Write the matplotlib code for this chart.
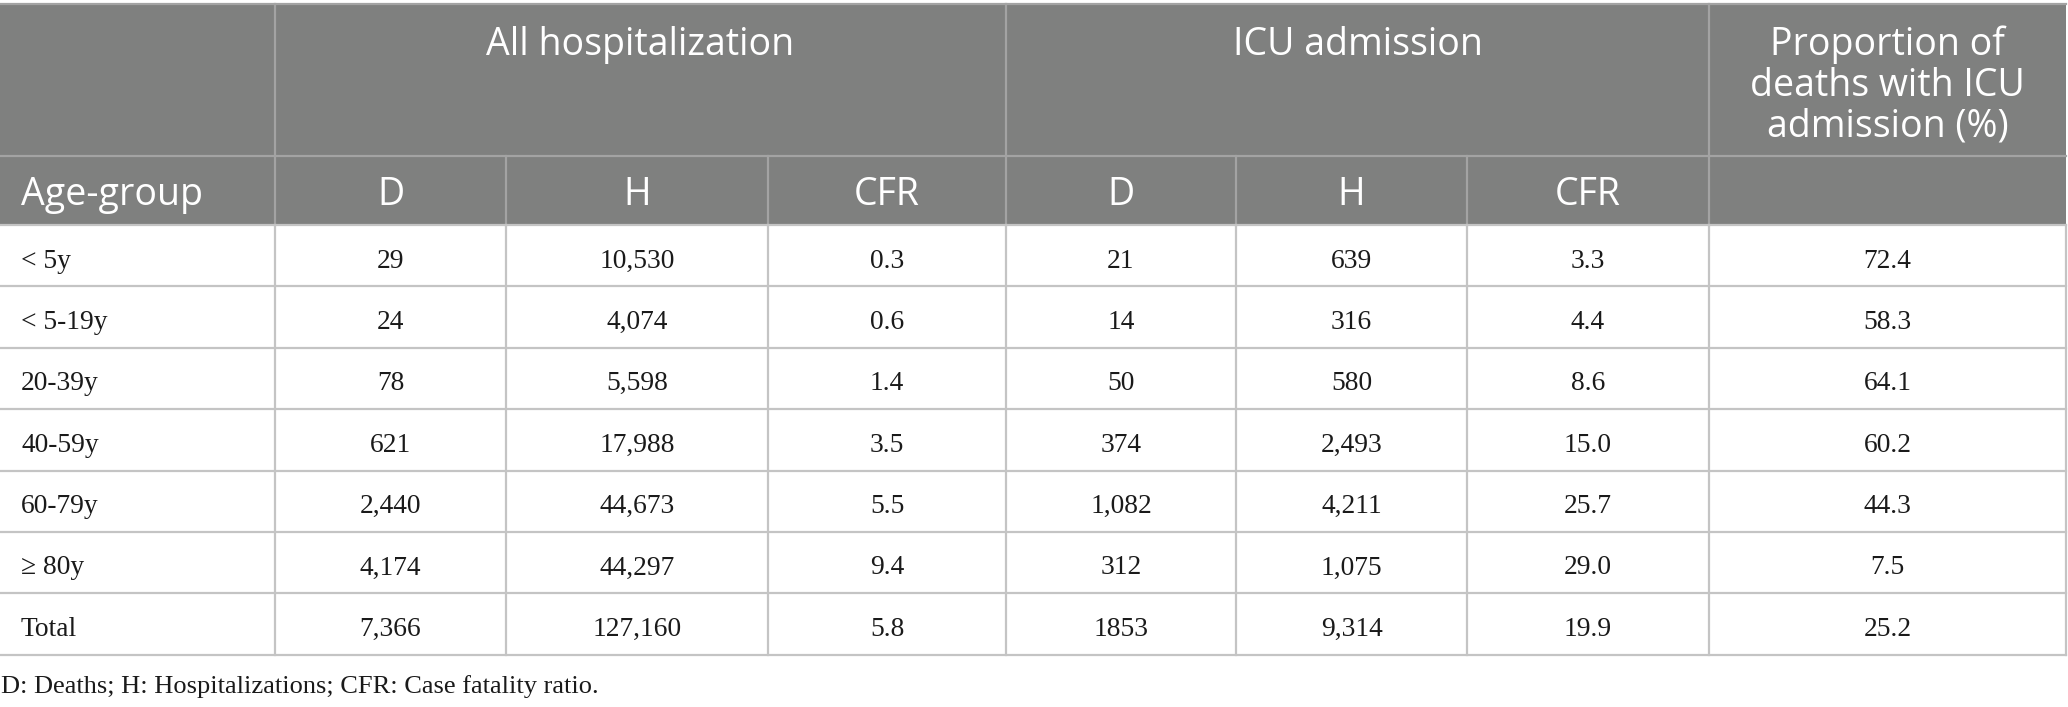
import matplotlib
matplotlib.use("Agg")
import matplotlib.pyplot as plt
from matplotlib.patches import Rectangle

# ---- data ----
age_groups = ["< 5y", "< 5-19y", "20-39y", "40-59y", "60-79y", "\u2265 80y", "Total"]
all_D = ["29", "24", "78", "621", "2,440", "4,174", "7,366"]
all_H = ["10,530", "4,074", "5,598", "17,988", "44,673", "44,297", "127,160"]
all_CFR = ["0.3", "0.6", "1.4", "3.5", "5.5", "9.4", "5.8"]
icu_D = ["21", "14", "50", "374", "1,082", "312", "1853"]
icu_H = ["639", "316", "580", "2,493", "4,211", "1,075", "9,314"]
icu_CFR = ["3.3", "4.4", "8.6", "15.0", "25.7", "29.0", "19.9"]
prop_icu = ["72.4", "58.3", "64.1", "60.2", "44.3", "7.5", "25.2"]

group_headers = ["All hospitalization", "ICU admission"]
prop_header = ["Proportion of", "deaths with ICU", "admission (%)"]
sub_headers = ["Age-group", "D", "H", "CFR", "D", "H", "CFR", ""]
footnote = "D: Deaths; H: Hospitalizations; CFR: Case fatality ratio."

# ---- layout (pixels) ----
W, H = 2068, 707
col_x = [0, 275, 506, 768, 1006, 1236, 1467, 1709, 2066]
y_top, y_h1, y_h2 = 4, 156, 225
row_h = 61.4
n_rows = len(age_groups)
y_bottom = y_h2 + n_rows * row_h

head_bg = "#7f807f"
head_line = "#a3a3a3"
body_line = "#c4c4c4"
sans = ["Open Sans", "DejaVu Sans"]
serif = ["Liberation Serif", "DejaVu Serif"]

fig = plt.figure(figsize=(W / 100, H / 100), dpi=100)
ax = fig.add_axes([0, 0, 1, 1])
ax.set_xlim(0, W)
ax.set_ylim(H, 0)
ax.axis("off")

# header background
ax.add_patch(Rectangle((0, y_top), col_x[-1], y_h2 - y_top, facecolor=head_bg,
                       edgecolor="none", zorder=1))

# header lines
lw = 1.6
ax.plot([0, col_x[-1]], [y_top, y_top], color=head_line, lw=lw, zorder=2)
ax.plot([col_x[1], col_x[-1]], [y_h1, y_h1], color=head_line, lw=lw, zorder=2)
ax.plot([0, col_x[1]], [y_h1, y_h1], color=head_line, lw=lw, zorder=2)
for xi in [col_x[1], col_x[4], col_x[7]]:
    ax.plot([xi, xi], [y_top, y_h2], color=head_line, lw=lw, zorder=2)
for xi in [col_x[2], col_x[3], col_x[5], col_x[6]]:
    ax.plot([xi, xi], [y_h1, y_h2], color=head_line, lw=lw, zorder=2)

# body lines
for r in range(n_rows + 1):
    yy = y_h2 + r * row_h
    ax.plot([0, col_x[-1]], [yy, yy], color=body_line, lw=lw, zorder=2)
for xi in col_x[1:]:
    ax.plot([xi, xi], [y_h2, y_bottom], color=body_line, lw=lw, zorder=2)

# header text
hs = 27
hb1 = 55
ax.text((col_x[1] + col_x[4]) / 2, hb1, group_headers[0], ha="center", va="baseline",
        color="white", fontsize=hs, family=sans, zorder=3)
ax.text((col_x[4] + col_x[7]) / 2, hb1, group_headers[1], ha="center", va="baseline",
        color="white", fontsize=hs, family=sans, zorder=3)
for i, line in enumerate(prop_header):
    ax.text((col_x[7] + col_x[8]) / 2, hb1 + i * 41, line, ha="center", va="baseline",
            color="white", fontsize=hs, family=sans, zorder=3)
for c, lab in enumerate(sub_headers):
    if c == 0:
        ax.text(21, 205, lab, ha="left", va="baseline", color="white",
                fontsize=hs, family=sans, zorder=3)
    elif lab:
        ax.text((col_x[c] + col_x[c + 1]) / 2, 205, lab, ha="center", va="baseline",
                color="white", fontsize=hs, family=sans, zorder=3)

# body text
cols = [all_D, all_H, all_CFR, icu_D, icu_H, icu_CFR, prop_icu]
bs = 19.8
for r in range(n_rows):
    yb = y_h2 + r * row_h + 42.5
    ax.text(21, yb, age_groups[r], ha="left", va="baseline", color="#1a1a1a",
            fontsize=bs, family=serif, zorder=3)
    for c, vals in enumerate(cols):
        ax.text((col_x[c + 1] + col_x[c + 2]) / 2, yb, vals[r], ha="center",
                va="baseline", color="#1a1a1a", fontsize=bs, family=serif, zorder=3)

ax.text(1, 693, footnote, ha="left", va="baseline", color="#1a1a1a",
        fontsize=19, family=serif, zorder=3)

fig.savefig("out.png", dpi=100, facecolor="white")
